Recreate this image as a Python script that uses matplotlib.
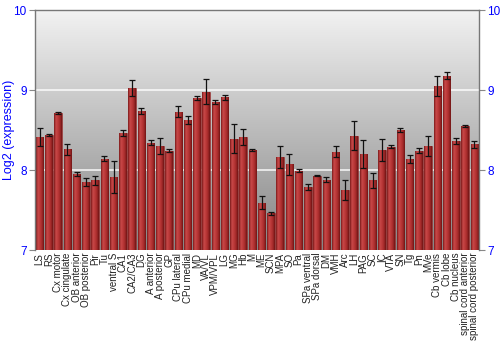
import numpy as np
import matplotlib
matplotlib.use("Agg")
import matplotlib.pyplot as plt
from matplotlib.colors import LinearSegmentedColormap

categories = ["LS", "RS", "Cx motor", "Cx cingulate", "OB anterior", "OB posterior", "Pir", "Tu",
              "ventral S", "CA1", "CA2/CA3", "DG", "A anterior", "A posterior", "GP", "CPu lateral",
              "CPu medial", "MD", "VA/VL", "VPM/VPL", "LG", "MG", "Hb", "M", "ME", "SCN", "MPA", "SO",
              "Pa", "SPa ventral", "SPa dorsal", "DM", "VMH", "Arc", "LH", "PAG", "SC", "IC", "VTA", "SN",
              "Tg", "Pn", "MVe", "Cb vermis", "Cb lobe", "Cb nucleus", "spinal cord anterior",
              "spinal cord posterior"]
values = [8.41, 8.44, 8.71, 8.26, 7.95, 7.85, 7.87, 8.14,
          7.91, 8.46, 9.02, 8.74, 8.34, 8.30, 8.24, 8.73,
          8.62, 8.90, 8.98, 8.85, 8.91, 8.39, 8.41, 8.25, 7.59, 7.46, 8.16, 8.07,
          7.99, 7.79, 7.93, 7.88, 8.23, 7.75, 8.43, 8.20, 7.87, 8.25, 8.29, 8.50,
          8.14, 8.24, 8.30, 9.05, 9.18, 8.36, 8.55, 8.32]
errors = [0.11, 0.01, 0.01, 0.07, 0.02, 0.05, 0.06, 0.03,
          0.20, 0.04, 0.10, 0.04, 0.03, 0.10, 0.02, 0.07,
          0.05, 0.02, 0.16, 0.02, 0.03, 0.18, 0.10, 0.01, 0.08, 0.02, 0.14, 0.13,
          0.02, 0.04, 0.01, 0.03, 0.07, 0.13, 0.18, 0.18, 0.09, 0.14, 0.02, 0.02,
          0.05, 0.03, 0.13, 0.13, 0.04, 0.04, 0.01, 0.04]
yticks = [7, 8, 9, 10]

plt.rcParams['font.family'] = ['Liberation Sans', 'DejaVu Sans']
fig = plt.figure(figsize=(5, 3.5), dpi=100)
ax = fig.add_axes([0.07, 0.2857, 0.888, 0.6857])

x = np.arange(len(categories))
ymin, ymax = 7, 10
ax.set_xlim(-0.5, len(categories) - 0.5)
ax.set_ylim(ymin, ymax)

# background gradient
bg = LinearSegmentedColormap.from_list("bg", ["#858585", "#f2f2f2"])
grad = np.linspace(0, 1, 256).reshape(-1, 1)
ax.imshow(grad, cmap=bg, aspect="auto", origin="lower",
          extent=(-0.5, len(categories) - 0.5, ymin, ymax), zorder=0)

for yv in [8, 9]:
    ax.axhline(yv, color="white", lw=1.2, alpha=0.85, zorder=1)

bar_cmap = LinearSegmentedColormap.from_list(
    "bar", ["#7a1a1a", "#c84848", "#bc3a3a", "#a42a2a", "#701515"])
bars = ax.bar(x, np.array(values) - ymin, bottom=ymin, width=0.82,
              color="#b03030", edgecolor="#8a2a2a", linewidth=0.4, zorder=2)
hgrad = np.linspace(0, 1, 64).reshape(1, -1)
for b in bars:
    im = ax.imshow(hgrad, cmap=bar_cmap, aspect="auto",
                   extent=(b.get_x(), b.get_x() + b.get_width(), ymin, b.get_y() + b.get_height()),
                   zorder=2.5)
    im.set_clip_path(b)

ax.errorbar(x, values, yerr=errors, fmt="none", ecolor="#111111", elinewidth=0.9,
            capsize=2.2, capthick=0.9, zorder=3)

ax.set_xticks(x)
ax.set_xticklabels(categories, rotation=90, fontsize=7.0, color="#222222")
ax.tick_params(axis="x", length=0, pad=2)
ax.set_yticks(yticks)
ax.set_yticklabels([str(t) for t in yticks], fontsize=8.5, color="blue")
ax.tick_params(axis="y", which="both", left=True, right=True, labelleft=True, labelright=True,
               length=4, color="#888888", direction="out", pad=2)
ax.set_ylabel("Log2 (expression)", color="blue", fontsize=9)
ax.yaxis.set_label_coords(-0.045, 0.5)

for s in ["left", "right", "top"]:
    ax.spines[s].set_color("#777777")
    ax.spines[s].set_linewidth(1.0)
ax.spines["bottom"].set_visible(False)

fig.savefig("out.png", dpi=100)
